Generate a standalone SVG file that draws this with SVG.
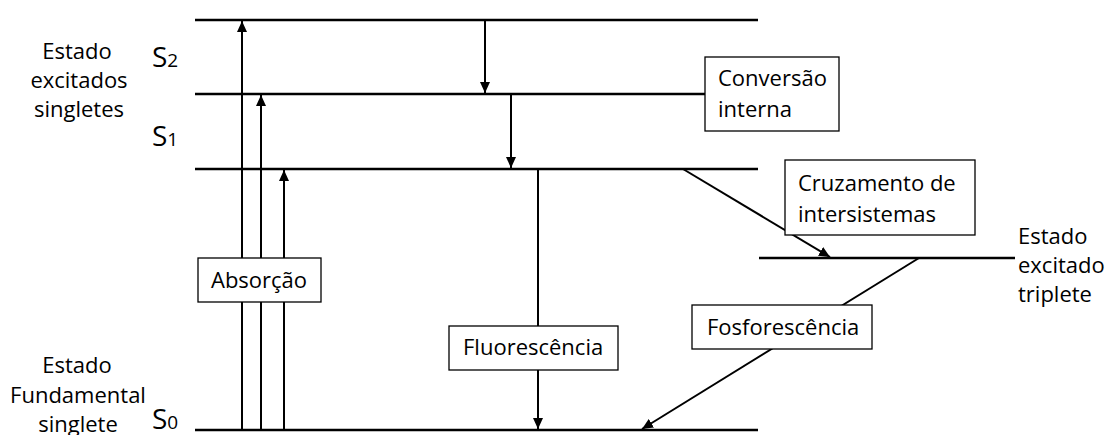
<svg xmlns="http://www.w3.org/2000/svg" width="1114" height="435" viewBox="0 0 1114 435">
<style>
text{font-family:"Open Sans","Noto Sans",sans-serif;font-size:22px;fill:#000}
.lvl{stroke:#000;stroke-width:2.6;fill:none}
.arr{stroke:#000;stroke-width:2;fill:none;marker-end:url(#ah)}
.box{fill:#fff;stroke:#000;stroke-width:1.3}
.big{font-size:28px}
.sub{font-size:19px}
</style>
<defs>
<marker id="ah" markerUnits="userSpaceOnUse" markerWidth="11" markerHeight="10" refX="11" refY="5" orient="auto">
<path d="M0,0 L11,5 L0,10 z" fill="#000"/>
</marker>
</defs>
<rect width="1114" height="435" fill="#fff"/>
<g id="levels">
<line class="lvl" x1="195" y1="20" x2="758" y2="20"/>
<line class="lvl" x1="195" y1="94" x2="758" y2="94"/>
<line class="lvl" x1="195" y1="169" x2="758" y2="169"/>
<line class="lvl" x1="195" y1="430" x2="758" y2="430"/>
<line class="lvl" x1="759" y1="258" x2="1015" y2="258"/>
</g>
<g id="connectors">
<line class="arr" x1="242" y1="430" x2="242" y2="21"/>
<line class="arr" x1="261" y1="430" x2="261" y2="95"/>
<line class="arr" x1="284" y1="430" x2="284" y2="170"/>
<line class="arr" x1="485" y1="20" x2="485" y2="93"/>
<line class="arr" x1="511" y1="94" x2="511" y2="168"/>
<line class="arr" x1="538" y1="169" x2="538" y2="429"/>
<line class="arr" x1="683" y1="169" x2="830" y2="257"/>
<line class="arr" x1="919" y1="258" x2="642" y2="429"/>
</g>
<g id="absorcao">
<rect class="box" x="198" y="258" width="123" height="44"/>
<text x="211" y="288">Absorção</text>
</g>
<g id="conversao">
<rect class="box" x="705" y="57" width="134" height="74"/>
<text x="718" y="86">Conversão</text>
<text x="718" y="117">interna</text>
</g>
<g id="cruzamento">
<rect class="box" x="785" y="160" width="190" height="75"/>
<text x="798" y="191">Cruzamento de</text>
<text x="798" y="222">intersistemas</text>
</g>
<g id="fluorescencia">
<rect class="box" x="449" y="326" width="169" height="44"/>
<text x="463" y="355">Fluorescência</text>
</g>
<g id="fosforescencia">
<rect class="box" x="692" y="305" width="180" height="44"/>
<text x="707" y="335">Fosforescência</text>
</g>
<g id="label-singletes">
<text x="77" y="59" text-anchor="middle">Estado</text>
<text x="79" y="88" text-anchor="middle">excitados</text>
<text x="79" y="117" text-anchor="middle">singletes</text>
</g>
<g id="label-fundamental">
<text x="77" y="373" text-anchor="middle">Estado</text>
<text x="78" y="403" text-anchor="middle">Fundamental</text>
<text x="78" y="432" text-anchor="middle">singlete</text>
</g>
<g id="label-triplete">
<text x="1018" y="244">Estado</text>
<text x="1018" y="273">excitado</text>
<text x="1018" y="302">triplete</text>
</g>
<g id="label-s">
<text x="152" y="67"><tspan class="big">S</tspan><tspan class="sub">2</tspan></text>
<text x="152" y="146"><tspan class="big">S</tspan><tspan class="sub">1</tspan></text>
<text x="152" y="429"><tspan class="big">S</tspan><tspan class="sub">0</tspan></text>
</g>
</svg>
